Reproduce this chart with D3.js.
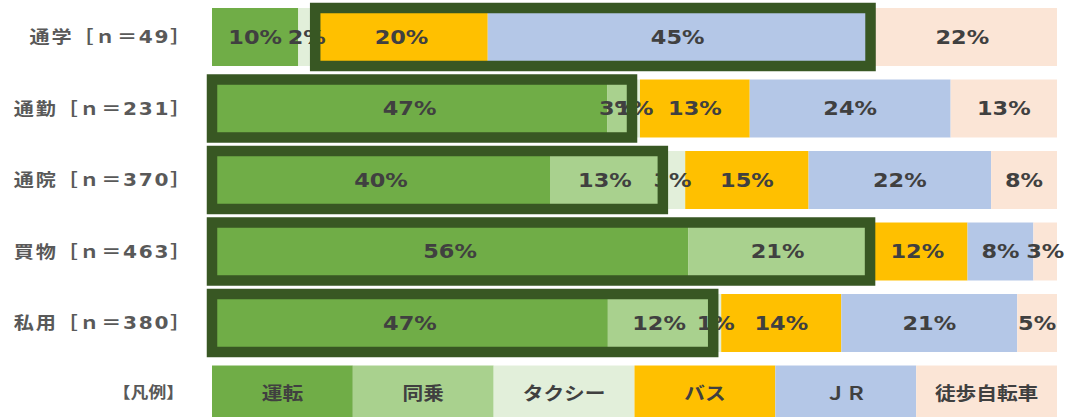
<!DOCTYPE html>
<html lang="ja">
<head>
<meta charset="utf-8">
<script src="https://cdn.jsdelivr.net/npm/d3@7"></script>
<style>
  html, body { margin: 0; padding: 0; background: #ffffff; }
  svg { display: block; }
</style>
</head>
<body>
<svg id="chart" width="1070" height="417"></svg>
<script>
// ---- data ----
const purposes = ["通学", "通勤", "通院", "買物", "私用"];
const sampleSizes = [49, 231, 370, 463, 380];
const modes = ["運転", "同乗", "タクシー", "バス", "ＪＲ", "徒歩自転車"];
const driving   = [10.2, 46.8, 40.0, 56.4, 46.8];
const passenger = [0.0, 2.6, 13.0, 21.2, 12.1];
const taxi      = [2.0, 1.3, 3.0, 0.0, 1.3];
const bus       = [20.4, 13.0, 14.6, 11.9, 14.2];
const jr        = [44.9, 23.8, 21.6, 7.8, 20.8];
const walkBike  = [22.4, 12.6, 7.8, 2.8, 4.7];
const highlightFrom = ["バス", "運転", "運転", "運転", "運転"];
const highlightTo   = ["ＪＲ", "同乗", "同乗", "同乗", "同乗"];
const legendTitle = "【凡例】";
const modeColors = ["#70ad47", "#a9d18e", "#e2efda", "#ffc000", "#b4c7e7", "#fbe5d6"];

// ---- build table ----
const seriesValues = [driving, passenger, taxi, bus, jr, walkBike];
const rows = purposes.map((p, i) => {
  const r = { key: p + "［ｎ＝" + sampleSizes[i] + "］" };
  modes.forEach((m, j) => { r[m] = seriesValues[j][i]; });
  return r;
});
const rowKeys = rows.map(r => r.key);

const svg = d3.select("#chart");
const left = 212, right = 1057;

const y = d3.scaleBand()
  .domain([...rowKeys, legendTitle])
  .range([1.25, 1.25 + 6 * 71.5])
  .paddingInner(0.189)
  .paddingOuter(0.0945);

const x = d3.scaleLinear().domain([0, 1]).range([left, right]);
const color = d3.scaleOrdinal().domain(modes).range(modeColors);

const stack = d3.stack().keys(modes).offset(d3.stackOffsetExpand);
const stacked = stack(rows);

const fontLatin = "'DejaVu Sans', 'Noto Sans CJK JP', sans-serif";
const stretch = 1.15;

// bars
const layers = svg.append("g").selectAll("g")
  .data(stacked).join("g")
  .attr("fill", d => color(d.key));

layers.selectAll("rect")
  .data(d => d.map(s => ({ key: d.key, s })))
  .join("rect")
  .attr("x", d => x(d.s[0]))
  .attr("width", d => x(d.s[1]) - x(d.s[0]))
  .attr("y", d => y(d.s.data.key))
  .attr("height", y.bandwidth());

// value labels
const labelG = svg.append("g");
stacked.forEach(layer => {
  layer.forEach(s => {
    const v = s.data[layer.key];
    if (v <= 0) return;
    const cx = (x(s[0]) + x(s[1])) / 2;
    const cy = y(s.data.key) + y.bandwidth() / 2;
    labelG.append("text")
      .attr("transform", `translate(${cx},${cy}) scale(${stretch},1)`)
      .attr("text-anchor", "middle")
      .attr("dominant-baseline", "central")
      .attr("font-family", fontLatin)
      .attr("font-weight", "bold")
      .attr("font-size", 19.5)
      .attr("fill", "#404040")
      .text(Math.round(v) + "%");
  });
});

// highlight boxes
const boxG = svg.append("g");
rows.forEach((r, i) => {
  const fromLayer = stacked[modes.indexOf(highlightFrom[i])][i];
  const toLayer = stacked[modes.indexOf(highlightTo[i])][i];
  const x0 = x(fromLayer[0]);
  const x1 = x(toLayer[1]) + 3;
  boxG.append("rect")
    .attr("x", x0)
    .attr("y", y(r.key))
    .attr("width", x1 - x0)
    .attr("height", y.bandwidth())
    .attr("fill", "none")
    .attr("stroke", "#385723")
    .attr("stroke-width", 10.5);
});

// category labels
svg.append("g").selectAll("text")
  .data(rowKeys).join("text")
  .attr("transform", d => `translate(192,${y(d) + y.bandwidth() / 2}) scale(${stretch},1)`)
  .attr("text-anchor", "end")
  .attr("dominant-baseline", "central")
  .attr("font-family", fontLatin)
  .attr("font-weight", "bold")
  .attr("font-size", 17.5)
  .attr("letter-spacing", 1.5)
  .attr("fill", "#595959")
  .text(d => d);

// legend row
const lx = d3.scaleBand().domain(modes).range([left, right]);
const ly = y(legendTitle);
const legend = svg.append("g");
legend.selectAll("rect")
  .data(modes).join("rect")
  .attr("x", d => lx(d))
  .attr("y", ly)
  .attr("width", lx.bandwidth())
  .attr("height", y.bandwidth())
  .attr("fill", d => color(d));
legend.selectAll("text")
  .data(modes).join("text")
  .attr("transform", d => `translate(${lx(d) + lx.bandwidth() / 2},${ly + y.bandwidth() / 2 - 2}) scale(${stretch},1)`)
  .attr("text-anchor", "middle")
  .attr("dominant-baseline", "central")
  .attr("font-family", "'Noto Sans CJK JP', sans-serif")
  .attr("font-weight", "bold")
  .attr("font-size", 18)
  .attr("fill", "#404040")
  .text(d => d);

svg.append("text")
  .attr("transform", `translate(184,${ly + y.bandwidth() / 2 - 3}) scale(${stretch},1)`)
  .attr("text-anchor", "end")
  .attr("dominant-baseline", "central")
  .attr("font-family", "'Noto Sans CJK JP', sans-serif")
  .attr("font-weight", "bold")
  .attr("font-size", 15.5)
  .attr("fill", "#595959")
  .text(legendTitle);
</script>
</body>
</html>
